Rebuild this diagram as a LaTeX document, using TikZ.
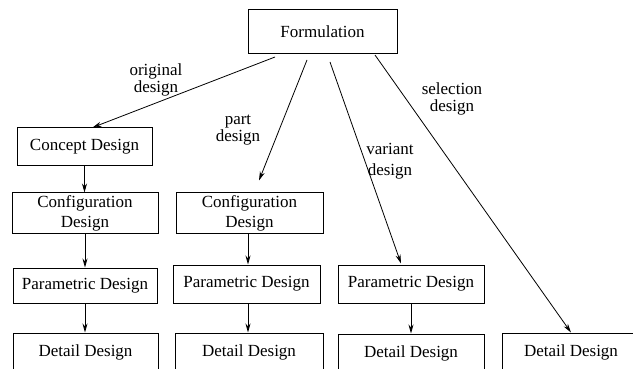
\documentclass[tikz,border=0pt]{standalone}
\usepackage{fontspec}
\setmainfont{Liberation Serif}
\usetikzlibrary{arrows.meta}
\begin{document}
\begin{tikzpicture}[x=1pt,y=-1pt,
  box/.style={draw,line width=1pt,inner sep=0pt,align=center,font=\fontsize{17}{20}\selectfont},
  lbl/.style={inner sep=0pt,align=center,font=\fontsize{17}{17}\selectfont},
  arr/.style={line width=0.8pt,-{Stealth[length=9pt,width=5pt]}}]
\useasboundingbox (0,0) rectangle (633,369);
\clip (0,0) rectangle (633,369);
% boxes
\node[box,minimum width=149pt,minimum height=44pt] (form) at (322.5,32) {Formulation};
\node[box,minimum width=135pt,minimum height=38pt] (concept) at (84.5,147) {Concept Design};
\node[box,minimum width=146pt,minimum height=40pt] (config1) at (85,213) {Configuration\\Design};
\node[box,minimum width=147pt,minimum height=40pt] (config2) at (249.5,213) {Configuration\\Design};
\node[box,minimum width=144pt,minimum height=35pt] (param1) at (85,285.5) {Parametric Design};
\node[box,minimum width=147pt,minimum height=38pt] (param2) at (246.5,284) {Parametric Design};
\node[box,minimum width=146pt,minimum height=38pt] (param3) at (411,284) {Parametric Design};
\node[box,minimum width=145pt,minimum height=38pt] (detail1) at (85.5,352) {Detail Design};
\node[box,minimum width=148pt,minimum height=38pt] (detail2) at (249,352) {Detail Design};
\node[box,minimum width=146pt,minimum height=38pt] (detail3) at (411,353) {Detail Design};
\node[box,minimum width=138pt,minimum height=38pt] (detail4) at (571,352) {Detail Design};
% start points of the diagonal connectors
\coordinate (s1) at (275,57);
\coordinate (s2) at (307,60);
\coordinate (s3) at (330,62);
\coordinate (s4) at (375,55);
% diagonal connectors
\draw[arr] (s1) -- ([xshift=8pt]concept.north);
\draw[arr] (s2) -- ([xshift=9.5pt,yshift=12pt]config2.north);
\draw[arr] (s3) -- ([xshift=-10pt,yshift=1pt]param3.north);
\draw[arr] (s4) -- (detail4.north);
% labels
\node[lbl] (l1) at (156,80) {original\\design};
\node[lbl] (l2) at (238,130) {part\\design};
\node[lbl] (l3) at (452,99) {selection\\design};
\node[lbl,font=\fontsize{17}{21}\selectfont] (l4) at (390,161) {variant\\design};
% vertical connectors
\draw[arr] (concept.south) -- (concept.south |- config1.north);
\draw[arr] (config1.south) -- (config1.south |- param1.north);
\draw[arr] (param1.south) -- (param1.south |- detail1.north);
\draw[arr] ([xshift=-1.5pt]config2.south) -- ([xshift=-1.5pt]config2.south |- param2.north);
\draw[arr] ([xshift=1.5pt]param2.south) -- ([xshift=1.5pt]param2.south |- detail2.north);
\draw[arr] (param3.south) -- (param3.south |- detail3.north);
\end{tikzpicture}
\end{document}
